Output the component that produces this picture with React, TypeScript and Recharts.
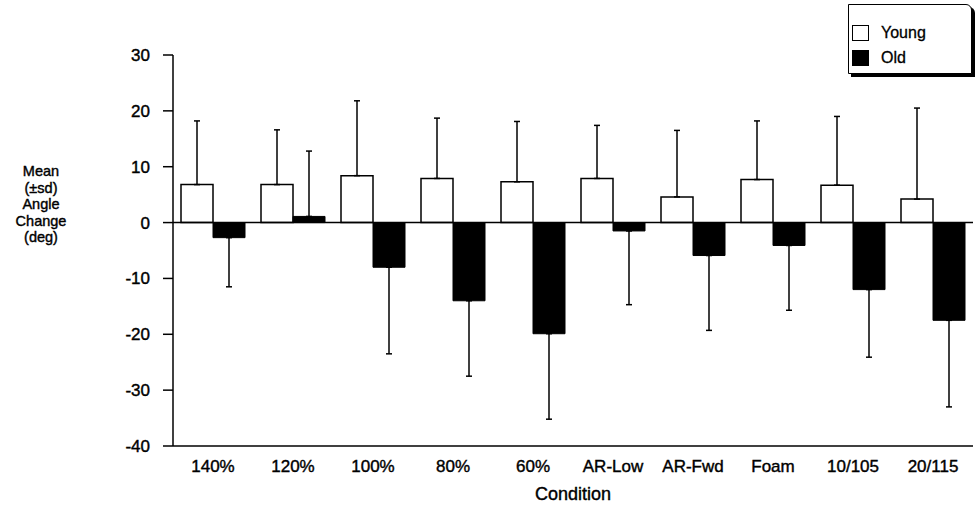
import { BarChart, Bar, XAxis, YAxis, ErrorBar, ReferenceLine, Legend } from 'recharts';

const categories = ['140%', '120%', '100%', '80%', '60%', 'AR-Low', 'AR-Fwd', 'Foam', '10/105', '20/115'];
const youngMean = [6.8, 6.8, 8.4, 7.9, 7.3, 7.9, 4.6, 7.7, 6.7, 4.2];
const youngSd = [11.4, 9.8, 13.4, 10.8, 10.8, 9.5, 11.9, 10.5, 12.3, 16.3];
const oldMean = [-2.7, 1.1, -8.0, -14.0, -19.9, -1.5, -5.9, -4.1, -12.0, -17.5];
const oldSd = [8.8, 11.7, 15.5, 13.5, 15.3, 13.2, 13.4, 11.6, 12.1, 15.5];
const yTicks = [-40, -30, -20, -10, 0, 10, 20, 30];
const yLabelLines = ['Mean', '(±sd)', 'Angle', 'Change', '(deg)'];

// only the outward half of each sd bar is drawn
const data = categories.map((name, i) => ({
    name,
    young: youngMean[i],
    youngErr: [0, youngSd[i]],
    old: oldMean[i],
    oldErr: oldMean[i] < 0 ? [oldSd[i], 0] : [0, oldSd[i]],
}));

const textStyle = { fill: '#000', stroke: '#000', strokeWidth: 0.4 };

const LegendBox = () => (
    <div
        style={{
            width: 124,
            height: 70,
            border: '1.5px solid #000',
            borderTopRightRadius: 6,
            boxShadow: '3px 3px 0 #000',
            background: '#fff',
            boxSizing: 'border-box',
            padding: '15px 0 0 3px',
            fontSize: 16,
            lineHeight: '25px',
            WebkitTextStroke: '0.3px #000',
        }}
    >
        <div style={{ display: 'flex', alignItems: 'center' }}>
            <span style={{ width: 17, height: 16, border: '1.5px solid #000', boxSizing: 'border-box', marginRight: 12 }} />
            <span>Young</span>
        </div>
        <div style={{ display: 'flex', alignItems: 'center' }}>
            <span style={{ width: 17, height: 16, background: '#000', marginRight: 12 }} />
            <span>Old</span>
        </div>
    </div>
);

const YLabel = () => (
    <text x={41} y={176} textAnchor="middle" fontSize={14.5} {...textStyle}>
        {yLabelLines.map((line, i) => (
            <tspan key={line} x={41} dy={i === 0 ? 0 : 16.6}>
                {line}
            </tspan>
        ))}
    </text>
);

export default function App() {
    return (
        <div style={{ position: 'absolute', left: 0, top: 0, width: 977, height: 511, background: '#fff', fontFamily: '"Liberation Sans", Arial, sans-serif' }}>
            <BarChart width={977} height={511} data={data} margin={{ top: 55, right: 4, left: 0, bottom: 35 }} barCategoryGap="10%" barGap={0}>
                <YAxis
                    type="number"
                    domain={[-40, 30]}
                    ticks={yTicks}
                    width={173}
                    axisLine={{ stroke: '#000', strokeWidth: 1.5 }}
                    tickLine={{ stroke: '#000', strokeWidth: 1.5 }}
                    tickSize={10}
                    tickMargin={13}
                    tick={{ fontSize: 17, ...textStyle }}
                    label={{ content: () => <YLabel /> }}
                />
                <XAxis
                    dataKey="name"
                    height={30}
                    axisLine={{ stroke: '#000', strokeWidth: 1.5 }}
                    tickLine={false}
                    tickMargin={8}
                    tick={{ fontSize: 17, ...textStyle }}
                    label={{ value: 'Condition', position: 'bottom', offset: 11, fontSize: 18, ...textStyle }}
                />
                <ReferenceLine y={0} stroke="#000" strokeWidth={1.5} />
                <Legend layout="vertical" align="center" verticalAlign="middle" wrapperStyle={{ top: 4, left: 848, width: 128 }} content={() => <LegendBox />} />
                <Bar dataKey="young" fill="#fff" stroke="#000" strokeWidth={1.5} isAnimationActive={false}>
                    <ErrorBar dataKey="youngErr" direction="y" width={3} stroke="#000" strokeWidth={1.5} />
                </Bar>
                <Bar dataKey="old" fill="#000" stroke="#000" strokeWidth={1} isAnimationActive={false}>
                    <ErrorBar dataKey="oldErr" direction="y" width={3} stroke="#000" strokeWidth={1.5} />
                </Bar>
            </BarChart>
        </div>
    );
}
